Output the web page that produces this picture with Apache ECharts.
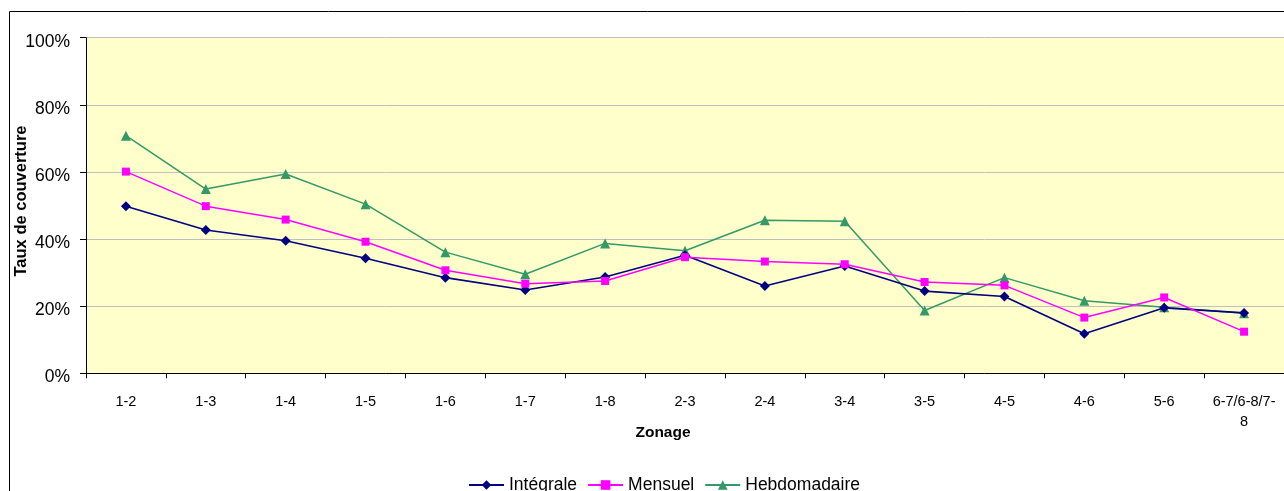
<!DOCTYPE html>
<html>
<head>
<meta charset="utf-8">
<script src="https://cdn.jsdelivr.net/npm/echarts@6/dist/echarts.min.js"></script>
<style>
html,body{margin:0;padding:0;background:#fff;}
#chart{width:1284px;height:491px;}
</style>
</head>
<body>
<div id="chart"></div>
<script>
const categories = ['1-2','1-3','1-4','1-5','1-6','1-7','1-8','2-3','2-4','3-4','3-5','4-5','4-6','5-6','6-7/6-8/7-8'];
const integrale = [49.8, 42.7, 39.5, 34.3, 28.5, 24.8, 28.7, 35.2, 26.0, 32.0, 24.5, 22.9, 11.8, 19.5, 18.0];
const mensuel = [60.1, 49.8, 45.8, 39.2, 30.7, 26.7, 27.5, 34.6, 33.3, 32.5, 27.2, 26.2, 16.6, 22.6, 12.4];
const hebdomadaire = [70.8, 54.9, 59.4, 50.4, 36.1, 29.5, 38.7, 36.5, 45.6, 45.3, 18.7, 28.5, 21.6, 19.7, 17.9];
const yTicks = [0, 20, 40, 60, 80, 100];

const FONT = '"Liberation Sans", Arial, sans-serif';
const chart = echarts.init(document.getElementById('chart'), null, {renderer: 'canvas'});
chart.setOption({
  backgroundColor: '#ffffff',
  animation: false,
  textStyle: {fontFamily: FONT},
  grid: {
    left: 86, top: 37.7, right: -2, bottom: 117.7,
    show: true, backgroundColor: '#FFFFCC', borderWidth: 0
  },
  legend: {
    data: ['Intégrale', 'Mensuel', 'Hebdomadaire'],
    left: 468, top: 476, padding: 0,
    itemWidth: 35, itemHeight: 12, itemGap: 10,
    textStyle: {fontFamily: FONT, fontSize: 17.5, color: '#000'}
  },
  xAxis: {
    type: 'category',
    data: categories,
    boundaryGap: true,
    axisLine: {lineStyle: {color: '#000', width: 1}},
    axisTick: {show: true, length: 5, lineStyle: {color: '#000'}},
    axisLabel: {
      fontFamily: FONT, fontSize: 14.5, color: '#000', margin: 19, lineHeight: 20,
      interval: 0,
      formatter: v => v === '6-7/6-8/7-8' ? '6-7/6-8/7-\n8' : v
    },
    splitLine: {show: false}
  },
  yAxis: {
    type: 'value',
    min: yTicks[0], max: yTicks[yTicks.length - 1], interval: 20,
    axisLine: {show: true, lineStyle: {color: '#000', width: 1}},
    axisTick: {show: true, length: 6, lineStyle: {color: '#000'}},
    axisLabel: {
      fontFamily: FONT, fontSize: 17.5, color: '#000', margin: 16,
      verticalAlign: 'top', lineHeight: 8,
      formatter: v => v + '%'
    },
    splitLine: {show: true, lineStyle: {color: '#C0C0C0', width: 1}}
  },
  graphic: [
    {type: 'rect', shape: {x: 9.5, y: 11.5, width: 1400, height: 600}, style: {fill: 'none', stroke: '#000', lineWidth: 1}, z: 100, silent: true},
    {type: 'text', x: 663, y: 433, style: {text: 'Zonage', font: 'bold 15.5px ' + FONT, fill: '#000', align: 'center', verticalAlign: 'middle'}},
    {type: 'text', x: 21, y: 201, rotation: Math.PI / 2, style: {text: 'Taux de couverture', font: 'bold 16.5px ' + FONT, fill: '#000', align: 'center', verticalAlign: 'middle'}}
  ],
  series: [
    {
      name: 'Intégrale', type: 'line', data: integrale,
      symbol: 'diamond', symbolSize: 10,
      lineStyle: {color: '#000080', width: 1.6},
      itemStyle: {color: '#000080'}, z: 3
    },
    {
      name: 'Mensuel', type: 'line', data: mensuel,
      symbol: 'rect', symbolSize: 8,
      lineStyle: {color: '#FF00FF', width: 1.5},
      itemStyle: {color: '#FF00FF'}, z: 4
    },
    {
      name: 'Hebdomadaire', type: 'line', data: hebdomadaire,
      symbol: 'triangle', symbolSize: 10,
      lineStyle: {color: '#339966', width: 1.5},
      itemStyle: {color: '#339966'}, z: 2
    }
  ]
});
</script>
</body>
</html>
